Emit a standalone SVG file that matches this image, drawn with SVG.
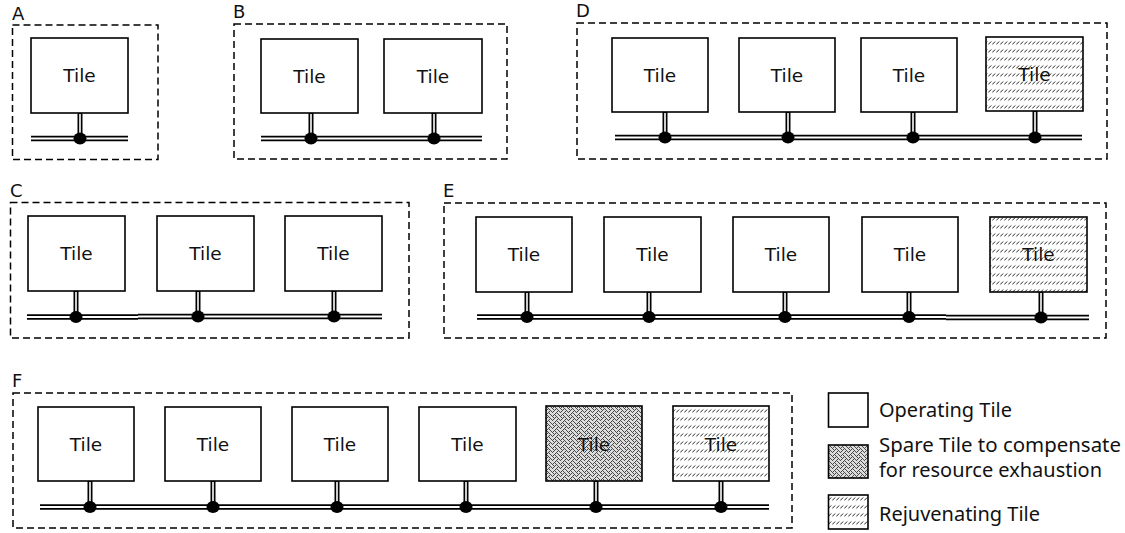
<svg xmlns="http://www.w3.org/2000/svg" width="1125" height="533" viewBox="0 0 1125 533">
<style>
.frame{fill:none;stroke:#000;stroke-width:1.5;stroke-dasharray:7 4}
.tile{fill:#fff;stroke:#000;stroke-width:1.6}
.rej{fill:url(#rejPat);stroke:#000;stroke-width:1.6}
.spare{fill:url(#sparePat);stroke:#000;stroke-width:1.6}
.tt{font-family:"DejaVu Sans",sans-serif;font-size:18.5px;fill:#111;text-anchor:middle}
.lbl{font-family:"DejaVu Sans",sans-serif;font-size:18px;fill:#111}
.leg{font-family:"Noto Sans","Open Sans",sans-serif;font-size:20px;fill:#111}
.busO{stroke:#000;stroke-width:5.5;fill:none}
.busI{stroke:#fff;stroke-width:2;fill:none}
.stO{stroke:#000;stroke-width:5;fill:none}
.stI{stroke:#fff;stroke-width:1.6;fill:none}
.dot{fill:#000}
</style>
<defs>
<pattern id="rejPat" width="4" height="8" patternUnits="userSpaceOnUse">
<rect width="4" height="8" fill="#fff"/>
<path d="M0.2 4.5 L3.2 1.5" stroke="#222" stroke-width="1"/>
</pattern>
<pattern id="sparePat" width="8" height="8" patternUnits="userSpaceOnUse">
<rect width="8" height="8" fill="#dcdcdc"/>
<path fill="#4a4a4a" d="M0 0h1v1h-1z M4 0h1v1h-1z M1 1h1v1h-1z M3 1h1v1h-1z M5 1h1v1h-1z M2 2h1v1h-1z M6 2h1v1h-1z M1 3h1v1h-1z M5 3h1v1h-1z M7 3h1v1h-1z M0 4h1v1h-1z M4 4h1v1h-1z M3 5h1v1h-1z M5 5h1v1h-1z M2 6h1v1h-1z M6 6h1v1h-1z M1 7h1v1h-1z M3 7h1v1h-1z M7 7h1v1h-1z"/>
</pattern>
</defs>

<!-- Frames and labels -->
<g id="groupA">
<rect class="frame" x="12.5" y="25" width="145.5" height="134.5"/>
<text class="lbl" x="12" y="20">A</text>
</g>
<g id="groupB">
<rect class="frame" x="234" y="24" width="273" height="135"/>
<text class="lbl" x="233" y="18">B</text>
</g>
<g id="groupC">
<rect class="frame" x="10.5" y="202.5" width="398.5" height="135.5"/>
<text class="lbl" x="10" y="197">C</text>
</g>
<g id="groupD">
<rect class="frame" x="577" y="23" width="530" height="136"/>
<text class="lbl" x="576" y="17">D</text>
</g>
<g id="groupE">
<rect class="frame" x="444" y="203" width="662" height="135"/>
<text class="lbl" x="443" y="197">E</text>
</g>
<g id="groupF">
<rect class="frame" x="13" y="393" width="779" height="135"/>
<text class="lbl" x="12" y="387">F</text>
</g>

<!-- Connectors: buses, stems, junction dots -->
<g id="connectors">
<path class="busO" d="M31 138.5H128 M261 138.5H482 M27 317H138 M138 316.5H285 M285 316.5H382 M615 137.5H1082 M477 317H946 M946 317.5H1089 M40 507H769"/>
<path class="busI" d="M31 138.5H128 M261 138.5H482 M27 317H138 M138 316.5H285 M285 316.5H382 M615 137.5H1082 M477 317H946 M946 317.5H1089 M40 507H769"/>
<path class="stO" d="M80 113V138 M311 113V138 M434 113V138 M76 291V317 M198 291V317 M334 291V317 M665 112V137 M788 112V137 M913 112V137 M1035 111V137 M527 292V317 M649 292V317 M785 292V317 M909 292V317 M1041 292V317 M90 481V507 M213 481V507 M337 481V507 M466 481V507 M596 481V507 M721 481V507"/>
<path class="stI" d="M80 114V136 M311 114V136 M434 114V136 M76 292V315 M198 292V315 M334 292V315 M665 113V135 M788 113V135 M913 113V135 M1035 112V135 M527 293V315 M649 293V315 M785 293V315 M909 293V315 M1041 293V315 M90 482V505 M213 482V505 M337 482V505 M466 482V505 M596 482V505 M721 482V505"/>
<g class="dot">
<ellipse cx="80" cy="138.5" rx="6.5" ry="6"/>
<ellipse cx="311" cy="138.5" rx="6.5" ry="6"/>
<ellipse cx="434" cy="138.5" rx="6.5" ry="6"/>
<ellipse cx="76" cy="317" rx="6.5" ry="6"/>
<ellipse cx="198" cy="316.5" rx="6.5" ry="6"/>
<ellipse cx="334" cy="316.5" rx="6.5" ry="6"/>
<ellipse cx="665" cy="137.5" rx="6.5" ry="6"/>
<ellipse cx="788" cy="137.5" rx="6.5" ry="6"/>
<ellipse cx="913" cy="137.5" rx="6.5" ry="6"/>
<ellipse cx="1035" cy="137.5" rx="6.5" ry="6"/>
<ellipse cx="527" cy="317" rx="6.5" ry="6"/>
<ellipse cx="649" cy="317" rx="6.5" ry="6"/>
<ellipse cx="785" cy="317" rx="6.5" ry="6"/>
<ellipse cx="909" cy="317" rx="6.5" ry="6"/>
<ellipse cx="1041" cy="317.5" rx="6.5" ry="6"/>
<ellipse cx="90" cy="507" rx="6.5" ry="6"/>
<ellipse cx="213" cy="507" rx="6.5" ry="6"/>
<ellipse cx="337" cy="507" rx="6.5" ry="6"/>
<ellipse cx="466" cy="507" rx="6.5" ry="6"/>
<ellipse cx="596" cy="507" rx="6.5" ry="6"/>
<ellipse cx="721" cy="507" rx="6.5" ry="6"/>
</g>
</g>

<!-- Tiles -->
<g id="tileA1"><rect class="tile" x="31" y="38" width="97" height="75"/><text class="tt" x="79.5" y="82">Tile</text></g>

<g id="tileB1"><rect class="tile" x="261" y="39" width="97" height="74"/><text class="tt" x="309.5" y="83">Tile</text></g>
<g id="tileB2"><rect class="tile" x="384" y="39" width="98" height="74"/><text class="tt" x="433" y="83">Tile</text></g>

<g id="tileC1"><rect class="tile" x="28" y="216" width="97" height="75"/><text class="tt" x="76.5" y="260">Tile</text></g>
<g id="tileC2"><rect class="tile" x="157" y="216" width="97" height="75"/><text class="tt" x="205.5" y="260">Tile</text></g>
<g id="tileC3"><rect class="tile" x="285" y="216" width="97" height="75"/><text class="tt" x="333.5" y="260">Tile</text></g>

<g id="tileD1"><rect class="tile" x="612" y="38" width="96" height="74"/><text class="tt" x="660" y="82">Tile</text></g>
<g id="tileD2"><rect class="tile" x="739" y="38" width="96" height="74"/><text class="tt" x="787" y="82">Tile</text></g>
<g id="tileD3"><rect class="tile" x="861" y="38" width="96" height="74"/><text class="tt" x="909" y="82">Tile</text></g>
<g id="tileD4"><rect class="rej" x="986" y="37" width="97" height="74"/><text class="tt" x="1034.5" y="81">Tile</text></g>

<g id="tileE1"><rect class="tile" x="476" y="217" width="96" height="75"/><text class="tt" x="524" y="261">Tile</text></g>
<g id="tileE2"><rect class="tile" x="604" y="217" width="97" height="75"/><text class="tt" x="652.5" y="261">Tile</text></g>
<g id="tileE3"><rect class="tile" x="733" y="217" width="96" height="75"/><text class="tt" x="781" y="261">Tile</text></g>
<g id="tileE4"><rect class="tile" x="862" y="217" width="96" height="75"/><text class="tt" x="910" y="261">Tile</text></g>
<g id="tileE5"><rect class="rej" x="990" y="217" width="97" height="75"/><text class="tt" x="1038.5" y="261">Tile</text></g>

<g id="tileF1"><rect class="tile" x="38" y="407" width="96" height="74"/><text class="tt" x="86" y="451">Tile</text></g>
<g id="tileF2"><rect class="tile" x="165" y="407" width="96" height="74"/><text class="tt" x="213" y="451">Tile</text></g>
<g id="tileF3"><rect class="tile" x="292" y="407" width="96" height="74"/><text class="tt" x="340" y="451">Tile</text></g>
<g id="tileF4"><rect class="tile" x="419" y="407" width="97" height="74"/><text class="tt" x="467.5" y="451">Tile</text></g>
<g id="tileF5"><rect class="spare" x="546" y="406" width="96" height="75"/><text class="tt" x="594" y="451">Tile</text></g>
<g id="tileF6"><rect class="rej" x="673" y="406" width="96" height="75"/><text class="tt" x="721" y="451">Tile</text></g>

<!-- Legend -->
<g id="legendOperating"><rect class="tile" x="828.5" y="393" width="39.5" height="34"/><text class="leg" x="879" y="417" textLength="133" lengthAdjust="spacingAndGlyphs">Operating Tile</text></g>
<g id="legendSpare"><rect class="spare" x="828.5" y="445" width="39.5" height="33"/><text class="leg" x="879" y="452" textLength="242" lengthAdjust="spacingAndGlyphs">Spare Tile to compensate</text><text class="leg" x="879" y="477" textLength="223" lengthAdjust="spacingAndGlyphs">for resource exhaustion</text></g>
<g id="legendRejuvenating"><rect class="rej" x="828.5" y="495" width="39.5" height="34"/><text class="leg" x="879" y="521" textLength="161" lengthAdjust="spacingAndGlyphs">Rejuvenating Tile</text></g>
</svg>
